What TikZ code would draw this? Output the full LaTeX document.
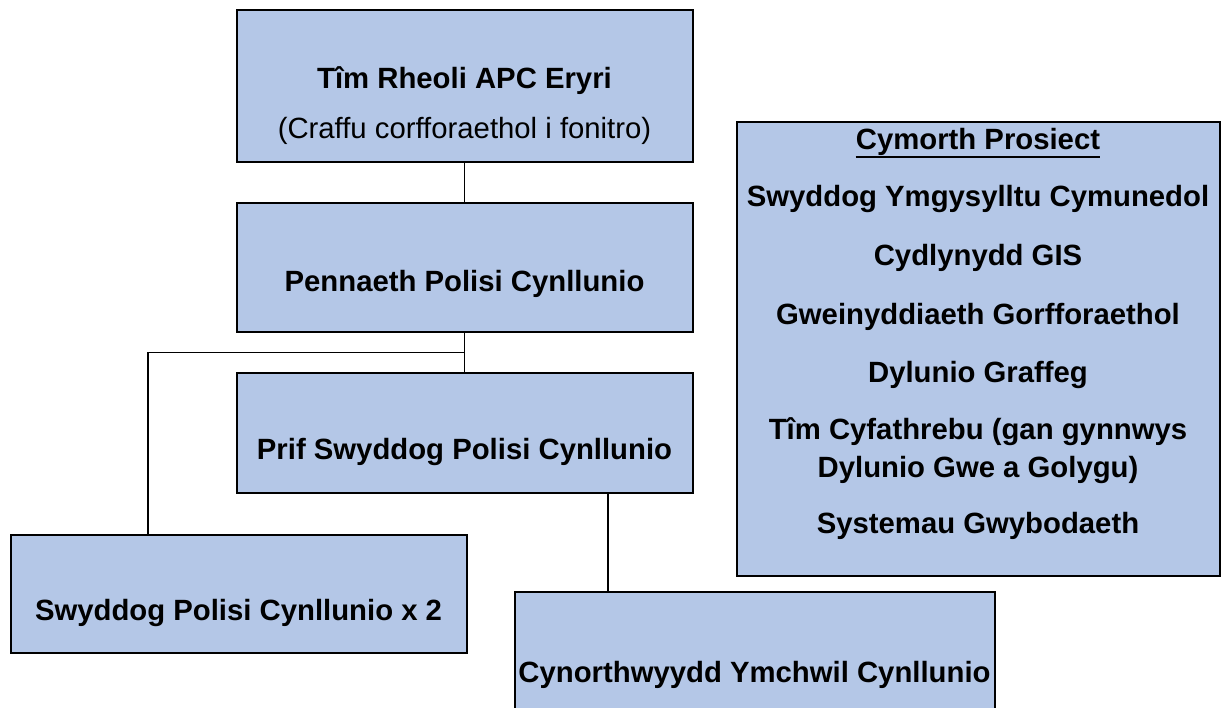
\documentclass[tikz,border=0pt]{standalone}
\usepackage{fontspec}
\setmainfont{Liberation Sans}
\definecolor{boxblue}{RGB}{180,199,231}
\tikzset{
  box/.style={draw=black, line width=2pt, fill=boxblue, rectangle, inner sep=0pt, outer sep=0pt},
  txt/.style={inner sep=0pt, anchor=base, font=\fontsize{29.3}{31}\selectfont\bfseries},
  txtreg/.style={inner sep=0pt, anchor=base, font=\fontsize{29.3}{31}\selectfont},
  conn/.style={draw=black, line width=1.6pt},
}
\begin{document}
\begin{tikzpicture}[x=1pt,y=-1pt]
\useasboundingbox (0,0) rectangle (1221,708);
\clip (0,0) rectangle (1221,708);
% boxes
\node[box, minimum width=456pt, minimum height=152pt] (top) at (464.5,86.5) {};
\node[box, minimum width=456pt, minimum height=129pt] (pen) at (464.5,268) {};
\node[box, minimum width=456pt, minimum height=119pt] (prif) at (464.5,433) {};
\node[box, minimum width=456pt, minimum height=118pt] (swy) at (238.5,593.5) {};
\node[box, minimum width=480pt, minimum height=120pt] (cyn) at (754.5,651.5) {};
\node[box, minimum width=483pt, minimum height=453pt] (cym) at (978,349) {};
% connectors
\coordinate (lx) at (148,0);
\coordinate (cx) at (608,0);
\path (pen.south) ++(0,20) coordinate (j);
\draw[conn] (top.south) -- (pen.north);
\draw[conn] (pen.south) -- (prif.north);
\draw[conn] (j) -- (j -| lx) -- (swy.north -| lx);
\draw[conn] (prif.south -| cx) -- (cyn.north -| cx);
% texts
\node[txt] (t1) at (464.5,89) {Tîm Rheoli APC Eryri};
\node[txtreg] (t2) at (464.5,139) {(Craffu corfforaethol i fonitro)};
\node[txt] (t3) at (464.5,292) {Pennaeth Polisi Cynllunio};
\node[txt] (t4) at (464.5,459) {Prif Swyddog Polisi Cynllunio};
\node[txt] (t5) at (238.5,620) {Swyddog Polisi Cynllunio x 2};
\node[txt] (t6) at (754.5,682) {Cynorthwyydd Ymchwil Cynllunio};
% right box
\node[txt] (r0) at (978,150) {Cymorth Prosiect};
\draw[line width=2pt] ([yshift=-7pt]r0.base west) -- ([yshift=-7pt]r0.base east);
\node[txt] (r1) at (978,207) {Swyddog Ymgysylltu Cymunedol};
\node[txt] (r2) at (978,266) {Cydlynydd GIS};
\node[txt] (r3) at (978,325) {Gweinyddiaeth Gorfforaethol};
\node[txt] (r4) at (978,383) {Dylunio Graffeg};
\node[txt] (r5) at (978,439) {Tîm Cyfathrebu (gan gynnwys};
\node[txt] (r6) at (978,477) {Dylunio Gwe a Golygu)};
\node[txt] (r7) at (978,533) {Systemau Gwybodaeth};
\end{tikzpicture}
\end{document}
